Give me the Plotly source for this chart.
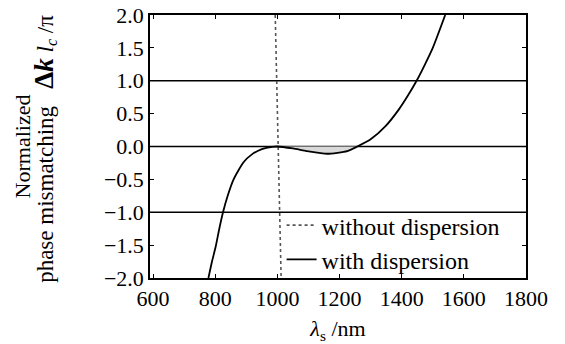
import plotly.graph_objects as go

# with dispersion
lam_disp = [778, 789, 802, 813, 825, 840, 859, 891, 918, 950, 983, 1000,
            1050, 1096, 1160, 1225, 1257, 1300, 1348, 1391, 1418, 1448,
            1475, 1500, 1540]
val_disp = [-2.0, -1.76, -1.51, -1.25, -1.0, -0.75, -0.5, -0.24, -0.12, -0.04,
            -0.005, 0.0, -0.03, -0.07, -0.11, -0.07, 0.0, 0.11, 0.31, 0.565,
            0.76, 1.0, 1.25, 1.5, 2.0]

# without dispersion
lam_nodisp = [993, 1002, 1012]
val_nodisp = [2.0, 0.0, -2.0]

# shaded region between curve and zero
lam_fill = [1000, 1050, 1096, 1160, 1225, 1257]
val_fill = [0.0, -0.03, -0.07, -0.11, -0.07, 0.0]

ref_lines = [1.0, 0.0, -1.0]
x_ticks = [600, 800, 1000, 1200, 1400, 1600, 1800]
y_ticks = [-2.0, -1.5, -1.0, -0.5, 0.0, 0.5, 1.0, 1.5, 2.0]

FONT = "Times New Roman, Liberation Serif, DejaVu Serif, serif"

fig = go.Figure()
fig.add_trace(go.Scatter(x=lam_fill, y=val_fill, mode="lines", fill="tozeroy",
                         fillcolor="#d9d9d9", line=dict(width=0, shape="spline", smoothing=0.6),
                         showlegend=False, hoverinfo="skip"))
fig.add_trace(go.Scatter(x=lam_nodisp, y=val_nodisp, mode="lines",
                         name="without dispersion",
                         line=dict(color="#555555", width=1.6, dash="dot")))
fig.add_trace(go.Scatter(x=lam_disp, y=val_disp, mode="lines",
                         name="with dispersion",
                         line=dict(color="black", width=1.8, shape="spline", smoothing=0.6)))

for v in ref_lines:
    fig.add_shape(type="line", xref="paper", x0=0, x1=1, yref="y", y0=v, y1=v,
                  line=dict(color="black", width=1.5), layer="below")

# y-axis title as two rotated lines
fig.add_annotation(text="Normalized", xref="paper", yref="paper",
                   x=-0.338, y=0.5, xanchor="center", yanchor="middle",
                   textangle=-90, showarrow=False,
                   font=dict(family=FONT, size=22, color="black"))
fig.add_annotation(text="phase mismatching   <b><span style='font-size:27px'>Δ<i>k</i></span></b> <i>l</i><sub><i>c</i></sub> /π",
                   xref="paper", yref="paper",
                   x=-0.28, y=0.49, xanchor="center", yanchor="middle",
                   textangle=-90, showarrow=False,
                   font=dict(family=FONT, size=23, color="black"))

fig.update_layout(
    width=565, height=344,
    margin=dict(l=150, r=39, t=15, b=66, autoexpand=False),
    paper_bgcolor="white", plot_bgcolor="white",
    font=dict(family=FONT, size=22, color="black"),
    showlegend=True,
    legend=dict(x=0.35, y=0.285, xanchor="left", yanchor="top",
                bgcolor="rgba(255,255,255,0)", font=dict(family=FONT, size=24),
                itemwidth=30, tracegroupgap=0),
    xaxis=dict(range=[590, 1800], tickvals=x_ticks, automargin=False,
               ticktext=[str(t) for t in x_ticks],
               ticks="inside", ticklen=4, tickcolor="black", showgrid=False,
               zeroline=False, showline=True, linecolor="black", linewidth=1.5,
               mirror="ticks", tickfont=dict(family=FONT, size=22),
               title=dict(text="<i>λ</i><sub>s</sub> /nm", standoff=15,
                          font=dict(family=FONT, size=22))),
    yaxis=dict(range=[-2.0, 2.0], tickvals=y_ticks, automargin=False,
               ticktext=[("\u2212%.1f" % -t if t < 0 else "%.1f" % t) for t in y_ticks],
               ticks="inside", ticklen=4, tickcolor="black", showgrid=False,
               zeroline=False, showline=True, linecolor="black", linewidth=1.5,
               mirror="ticks", tickfont=dict(family=FONT, size=22)),
)

fig.write_html("out.html")
